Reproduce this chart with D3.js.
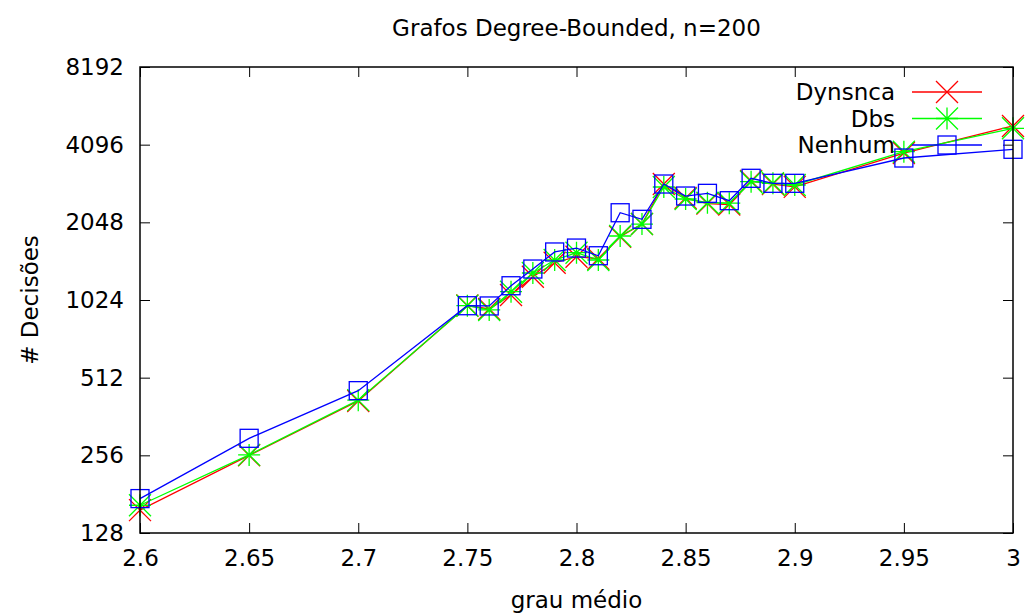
<!DOCTYPE html>
<html>
<head>
<meta charset="utf-8">
<script src="https://cdn.jsdelivr.net/npm/d3@7"></script>
<style>
body { margin: 0; background: #fff; }
svg text { font-family: "DejaVu Sans", sans-serif; fill: #000; }
</style>
</head>
<body>
<div class="chart"></div>
<script>
// grau medio
var grau = [2.6, 2.65, 2.7, 2.75, 2.76, 2.77, 2.78, 2.79, 2.8, 2.81, 2.82, 2.83, 2.84, 2.85, 2.86, 2.87, 2.88, 2.89, 2.9, 2.95, 3.0];

var dynsnca = [157, 256, 416, 975, 945, 1070, 1261, 1428, 1507, 1480, 1800, 2017, 2883, 2545, 2420, 2400, 2960, 2880, 2810, 3800, 4840];
var dbs     = [164, 257, 419, 973, 937, 1103, 1303, 1463, 1562, 1463, 1813, 2017, 2807, 2522, 2440, 2430, 2943, 2901, 2858, 3846, 4740];
var nenhum  = [174, 298, 456, 973, 971, 1163, 1350, 1572, 1628, 1520, 2231, 2104, 2883, 2590, 2653, 2484, 3034, 2901, 2901, 3636, 3930];

var xTicks = [2.6, 2.65, 2.7, 2.75, 2.8, 2.85, 2.9, 2.95, 3];
var yTicks = [128, 256, 512, 1024, 2048, 4096, 8192];

var series = [
	{name: 'Dynsnca', values: dynsnca, color: '#ff0000', mark: 'x'},
	{name: 'Dbs', values: dbs, color: '#00ff00', mark: 'star'},
	{name: 'Nenhum', values: nenhum, color: '#0000ff', mark: 'square'}
];

var width = 1025,
	height = 615,
	plotLeft = 140, plotRight = 1013, plotTop = 67, plotBottom = 533,
	fontSize = 23;

var x = d3.scaleLinear().domain([2.6, 3]).range([plotLeft, plotRight]);
var y = d3.scaleLog().base(2).domain([128, 8192]).range([plotBottom, plotTop]);

var svg = d3.select('.chart').append('svg')
	.attr('width', width)
	.attr('height', height);

// axes, ticks pointing inward
var axisStyle = function(g){
	g.select('.domain').remove();
	g.selectAll('line').attr('stroke', '#000').attr('stroke-width', 1);
	g.selectAll('text').attr('font-size', fontSize).attr('font-family', '"DejaVu Sans", sans-serif');
};

svg.append('g')
	.attr('transform', 'translate(0,' + plotBottom + ')')
	.call(d3.axisBottom(x).tickValues(xTicks).tickFormat(d3.format('')).tickSizeInner(-10).tickPadding(17))
	.call(axisStyle);

svg.append('g')
	.attr('transform', 'translate(0,' + plotTop + ')')
	.call(d3.axisTop(x).tickValues(xTicks).tickFormat('').tickSizeInner(-10))
	.call(axisStyle);

svg.append('g')
	.attr('transform', 'translate(' + plotLeft + ',0)')
	.call(d3.axisLeft(y).tickValues(yTicks).tickFormat(d3.format('d')).tickSizeInner(-10).tickPadding(16))
	.call(axisStyle);

svg.append('g')
	.attr('transform', 'translate(' + plotRight + ',0)')
	.call(d3.axisRight(y).tickValues(yTicks).tickFormat('').tickSizeInner(-10))
	.call(axisStyle);

// lines
var line = d3.line()
	.x(function(d, i){ return x(grau[i]); })
	.y(function(d){ return y(d); });

function drawMark(g, type, color){
	var s = 11;
	if(type == 'x'){
		g.append('path').attr('d', 'M' + (-s) + ',' + (-s) + 'L' + s + ',' + s + 'M' + (-s) + ',' + s + 'L' + s + ',' + (-s));
	}else if(type == 'star'){
		g.append('path').attr('d', 'M' + (-s) + ',' + (-s) + 'L' + s + ',' + s + 'M' + (-s) + ',' + s + 'L' + s + ',' + (-s) +
			'M' + (-s) + ',0L' + s + ',0M0,' + (-s) + 'L0,' + s);
	}else{
		g.append('rect').attr('x', -9).attr('y', -9).attr('width', 18).attr('height', 18).attr('fill', 'none');
	}
	g.selectAll('path, rect').attr('stroke', color).attr('stroke-width', 1.3).attr('fill', 'none');
}

series.forEach(function(s, k){
	var g = svg.append('g');
	g.append('path')
		.datum(s.values)
		.attr('d', line)
		.attr('fill', 'none')
		.attr('stroke', s.color)
		.attr('stroke-width', 1.3);

	g.selectAll('g.mark')
		.data(s.values)
		.enter()
		.append('g')
		.attr('class', 'mark')
		.attr('transform', function(d, i){ return 'translate(' + x(grau[i]) + ',' + y(d) + ')'; })
		.each(function(){ drawMark(d3.select(this), s.mark, s.color); });

	// legend
	var ly = 92 + k * 26.5;
	var lg = svg.append('g');
	lg.append('text')
		.attr('x', 895)
		.attr('y', ly)
		.attr('dy', '0.35em')
		.attr('text-anchor', 'end')
		.attr('font-size', fontSize)
		.text(s.name);
	lg.append('line')
		.attr('x1', 912).attr('x2', 982)
		.attr('y1', ly).attr('y2', ly)
		.attr('stroke', s.color).attr('stroke-width', 1.3);
	var lm = lg.append('g').attr('transform', 'translate(947,' + ly + ')');
	drawMark(lm, s.mark, s.color);
});

// border
svg.append('rect')
	.attr('x', plotLeft).attr('y', plotTop)
	.attr('width', plotRight - plotLeft).attr('height', plotBottom - plotTop)
	.attr('fill', 'none')
	.attr('stroke', '#000')
	.attr('stroke-width', 1.5);

// titles
svg.append('text')
	.attr('x', (plotLeft + plotRight) / 2)
	.attr('y', 28)
	.attr('dy', '0.35em')
	.attr('text-anchor', 'middle')
	.attr('font-size', fontSize)
	.text('Grafos Degree-Bounded, n=200');

svg.append('text')
	.attr('x', (plotLeft + plotRight) / 2)
	.attr('y', 600)
	.attr('dy', '0.35em')
	.attr('text-anchor', 'middle')
	.attr('font-size', fontSize)
	.text('grau médio');

svg.append('text')
	.attr('transform', 'translate(30,300) rotate(-90)')
	.attr('dy', '0.35em')
	.attr('text-anchor', 'middle')
	.attr('font-size', fontSize)
	.text('# Decisões');
</script>
</body>
</html>
